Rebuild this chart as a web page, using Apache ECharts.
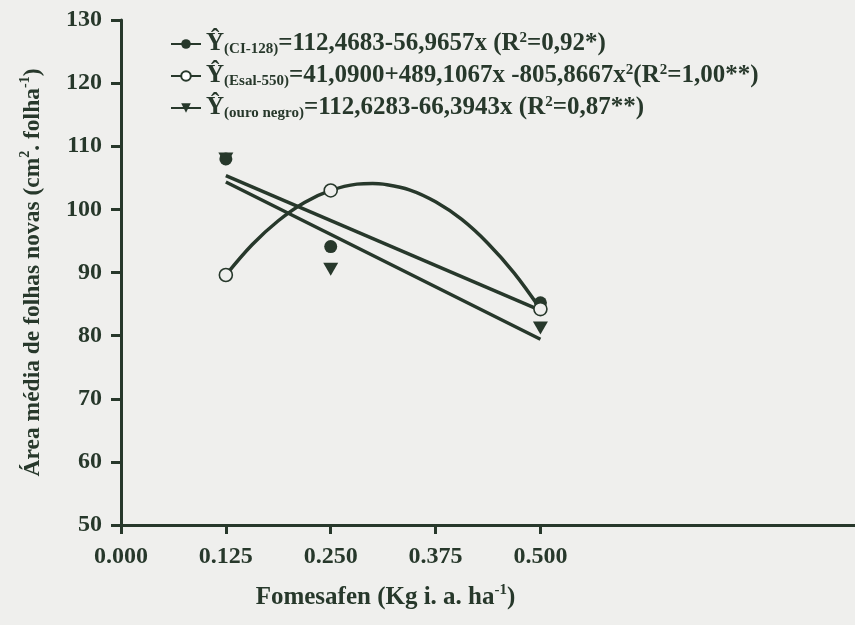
<!DOCTYPE html>
<html>
<head>
<meta charset="utf-8">
<script src="https://cdn.jsdelivr.net/npm/echarts@6/dist/echarts.min.js"></script>
<style>
  html, body { margin: 0; padding: 0; background: #efefed; }
  #chart { width: 855px; height: 625px; }
</style>
</head>
<body>
<div id="chart"></div>
<script>
// Doses of fomesafen (kg i.a./ha) and mean new-leaf area per cultivar
const doses = [0.125, 0.25, 0.5];
const ci128 = [108.0, 94.1, 85.2];
const esal550 = [89.6, 103.0, 84.2];
const ouroNegro = [108.0, 90.5, 81.2];

// Linear fits as printed: [intercept, slope]
const ciFit = [112.4683, -56.9657];
const ouroFit = [112.6283, -66.3943];

// Fitted curve for Esal-550
const esalCurveX = [0.125, 0.15625, 0.1875, 0.21875, 0.25, 0.28125, 0.3,
                    0.3125, 0.34375, 0.375, 0.40625, 0.4375, 0.46875, 0.5];
const esalCurveY = [89.6, 94.4, 98.2, 101.1, 103.0, 104.0, 104.1,
                    104.0, 103.1, 101.2, 98.4, 94.6, 89.9, 84.2];

const xTickValues = [0, 0.125, 0.25, 0.375, 0.5];
const xTickLabels = ['0.000', '0.125', '0.250', '0.375', '0.500'];
const yTicks = [50, 60, 70, 80, 90, 100, 110, 120, 130];

const legendText = {
  'CI-128': '{m|Ŷ}{s|(CI-128)}{m|=112,4683-56,9657x (R}{p|2}{m|=0,92*)}',
  'Esal-550': '{m|Ŷ}{s|(Esal-550)}{m|=41,0900+489,1067x -805,8667x}{p|2}{m|(R}{p|2}{m|=1,00**)}',
  'ouro negro': '{m|Ŷ}{s|(ouro negro)}{m|=112,6283-66,3943x (R}{p|2}{m|=0,87**)}'
};

const ink = '#27382b';
const paper = '#efefed';
const serif = '"Liberation Serif", "Times New Roman", serif';

const pairs = (xs, ys) => xs.map((x, i) => [x, ys[i]]);
const linePts = (fit) => [doses[0], doses[doses.length - 1]].map(x => [x, fit[0] + fit[1] * x]);

const legendRich = {
  m: { fontFamily: serif, fontWeight: 'bold', fontSize: 25, color: ink, lineHeight: 26 },
  s: { fontFamily: serif, fontWeight: 'bold', fontSize: 15, color: ink, lineHeight: 8, verticalAlign: 'bottom' },
  p: { fontFamily: serif, fontWeight: 'bold', fontSize: 15, color: ink, lineHeight: 14, verticalAlign: 'top' }
};
const nameRich = (size) => ({
  m: { fontFamily: serif, fontWeight: 'bold', fontSize: size, color: ink, lineHeight: 30 },
  p: { fontFamily: serif, fontWeight: 'bold', fontSize: Math.round(size * 0.6), color: ink, lineHeight: 15, verticalAlign: 'top' }
});

const chart = echarts.init(document.getElementById('chart'));
chart.setOption({
  backgroundColor: paper,
  animation: false,
  grid: { left: 121, right: -1, top: 20, bottom: 100 },
  legend: {
    orient: 'vertical',
    left: 165,
    top: 26,
    itemWidth: 30,
    itemHeight: 12,
    itemGap: 6,
    data: ['CI-128', 'Esal-550', 'ouro negro'],
    formatter: name => legendText[name],
    textStyle: { rich: legendRich }
  },
  xAxis: {
    type: 'value',
    min: 0,
    max: 0.875,
    interval: 0.125,
    splitLine: { show: false },
    axisLine: { lineStyle: { color: ink, width: 3 } },
    axisTick: { length: 9, lineStyle: { color: ink, width: 3 }, customValues: xTickValues },
    axisLabel: {
      customValues: xTickValues,
      margin: 20,
      color: ink,
      fontFamily: serif,
      fontWeight: 'bold',
      fontSize: 24,
      formatter: (v) => xTickLabels[xTickValues.indexOf(v)] ?? ''
    },
    name: '{m|Fomesafen (Kg i. a. ha}{p|-1}{m|)}',
    nameLocation: 'middle',
    nameGap: 58,
    nameTextStyle: { padding: [0, 205, 0, 0], rich: nameRich(25) }
  },
  yAxis: {
    type: 'value',
    min: yTicks[0],
    max: yTicks[yTicks.length - 1],
    interval: 10,
    splitLine: { show: false },
    axisLine: { lineStyle: { color: ink, width: 3 } },
    axisTick: { length: 10, lineStyle: { color: ink, width: 3 } },
    axisLabel: {
      margin: 19,
      color: ink,
      fontFamily: serif,
      fontWeight: 'bold',
      fontSize: 24
    },
    name: '{m|Área média de folhas novas (cm}{p|2}{m|. folha}{p|-1}{m|)}',
    nameLocation: 'middle',
    nameGap: 73,
    nameTextStyle: { rich: nameRich(23.5) }
  },
  series: [
    {
      name: 'CI-128', type: 'line', data: linePts(ciFit),
      symbol: 'circle', symbolSize: 12, showSymbol: false,
      lineStyle: { color: ink, width: 3.5 }, itemStyle: { color: ink }, z: 2
    },
    {
      name: 'Esal-550', type: 'line', data: pairs(esalCurveX, esalCurveY), smooth: 0.35,
      symbol: 'emptyCircle', symbolSize: 12, showSymbol: false,
      lineStyle: { color: ink, width: 3.5 }, itemStyle: { color: ink, borderColor: ink, borderWidth: 1.5 }, z: 2
    },
    {
      name: 'ouro negro', type: 'line', data: linePts(ouroFit),
      symbol: 'triangle', symbolRotate: 180, symbolSize: 14, showSymbol: false,
      lineStyle: { color: ink, width: 3.5 }, itemStyle: { color: ink }, z: 2
    },
    {
      name: 'CI-128 pts', type: 'scatter', data: pairs(doses, ci128),
      symbol: 'circle', symbolSize: 13, itemStyle: { color: ink, opacity: 1 }, z: 3
    },
    {
      name: 'Esal-550 pts', type: 'scatter', data: pairs(doses, esal550),
      symbol: 'circle', symbolSize: 13,
      itemStyle: { color: paper, borderColor: ink, borderWidth: 1.6, opacity: 1 }, z: 3
    },
    {
      name: 'ouro negro pts', type: 'scatter', data: pairs(doses, ouroNegro),
      symbol: 'triangle', symbolRotate: 180, symbolSize: [15, 13], itemStyle: { color: ink, opacity: 1 }, z: 3
    }
  ]
});
</script>
</body>
</html>
